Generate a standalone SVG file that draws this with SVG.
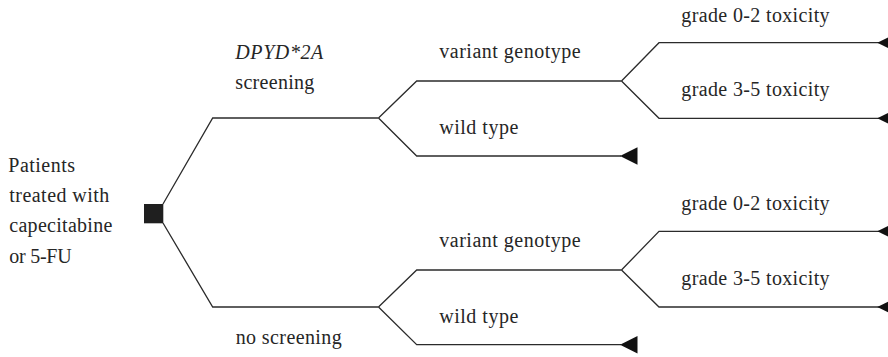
<svg xmlns="http://www.w3.org/2000/svg" xmlns:xlink="http://www.w3.org/1999/xlink" width="888" height="357" viewBox="0 0 888 357">
  <style>
    .lbl { font-family: "Liberation Serif", "Times New Roman", serif; font-size: 20px; fill: #262626; }
    .it { font-style: italic; }
    .edge { fill: none; stroke: #2b2b2b; stroke-width: 1.3; stroke-linejoin: miter; }
    .term { fill: #111111; }
  </style>
  <defs>
    <!-- terminal node: left-pointing triangle, tip at origin -->
    <polygon id="tri" points="0,0 17.5,-8.7 17.5,8.7"/>
  </defs>

  <rect width="888" height="357" fill="#ffffff"/>

  <!-- branches of the tree -->
  <g id="connectors" class="edge">
    <path d="M163,204 L212.7,118 L378.5,118"/>
    <path d="M163,223 L212.7,307 L378.5,307"/>
    <path d="M378.5,118 L416.7,81 L621.5,81"/>
    <path d="M378.5,118 L416.7,156 L621,156"/>
    <path d="M621.5,81 L659,42.7 L888,42.7"/>
    <path d="M621.5,81 L659,118.3 L888,118.3"/>
    <path d="M378.5,307 L416.7,270 L621.5,270"/>
    <path d="M378.5,307 L416.7,344.7 L621,344.7"/>
    <path d="M621.5,270 L659,231.3 L888,231.3"/>
    <path d="M621.5,270 L659,307 L888,307"/>
  </g>

  <!-- decision node -->
  <g id="root">
    <rect x="144" y="204" width="19.3" height="19.3" fill="#1f1f1f"/>
    <text class="lbl" x="8.3" y="172.3" textLength="66.7" lengthAdjust="spacing">Patients</text>
    <text class="lbl" x="9.3" y="202" textLength="100" lengthAdjust="spacing">treated with</text>
    <text class="lbl" x="9.3" y="232" textLength="103" lengthAdjust="spacing">capecitabine</text>
    <text class="lbl" x="9.3" y="263" textLength="62.3" lengthAdjust="spacing">or 5-FU</text>
  </g>

  <g id="screening">
    <text class="lbl it" x="235.3" y="58.5" textLength="88" lengthAdjust="spacing">DPYD*2A</text>
    <text class="lbl" x="235.3" y="88.5" textLength="79" lengthAdjust="spacing">screening</text>
  </g>

  <g id="no-screening">
    <text class="lbl" x="235.7" y="343.5" textLength="106" lengthAdjust="spacing">no screening</text>
  </g>

  <g id="screen-variant">
    <text class="lbl" x="439.3" y="58.3" textLength="141.4" lengthAdjust="spacing">variant genotype</text>
  </g>

  <g id="screen-wild">
    <text class="lbl" x="439.3" y="134" textLength="79" lengthAdjust="spacing">wild type</text>
    <use xlink:href="#tri" class="term" x="620" y="156"/>
  </g>

  <g id="screen-low-tox">
    <text class="lbl" x="681.3" y="21.5" textLength="148.3" lengthAdjust="spacing">grade 0-2 toxicity</text>
    <use xlink:href="#tri" class="term" x="877.3" y="42.7"/>
  </g>

  <g id="screen-high-tox">
    <text class="lbl" x="681.3" y="96" textLength="148.3" lengthAdjust="spacing">grade 3-5 toxicity</text>
    <use xlink:href="#tri" class="term" x="877.3" y="118.3"/>
  </g>

  <g id="noscreen-variant">
    <text class="lbl" x="439.3" y="247" textLength="141.4" lengthAdjust="spacing">variant genotype</text>
  </g>

  <g id="noscreen-wild">
    <text class="lbl" x="439.3" y="322.5" textLength="79" lengthAdjust="spacing">wild type</text>
    <use xlink:href="#tri" class="term" x="620" y="344.7"/>
  </g>

  <g id="noscreen-low-tox">
    <text class="lbl" x="681.3" y="209.5" textLength="148.3" lengthAdjust="spacing">grade 0-2 toxicity</text>
    <use xlink:href="#tri" class="term" x="877.3" y="231.3"/>
  </g>

  <g id="noscreen-high-tox">
    <text class="lbl" x="681.3" y="284.5" textLength="148.3" lengthAdjust="spacing">grade 3-5 toxicity</text>
    <use xlink:href="#tri" class="term" x="877.3" y="307"/>
  </g>
</svg>
